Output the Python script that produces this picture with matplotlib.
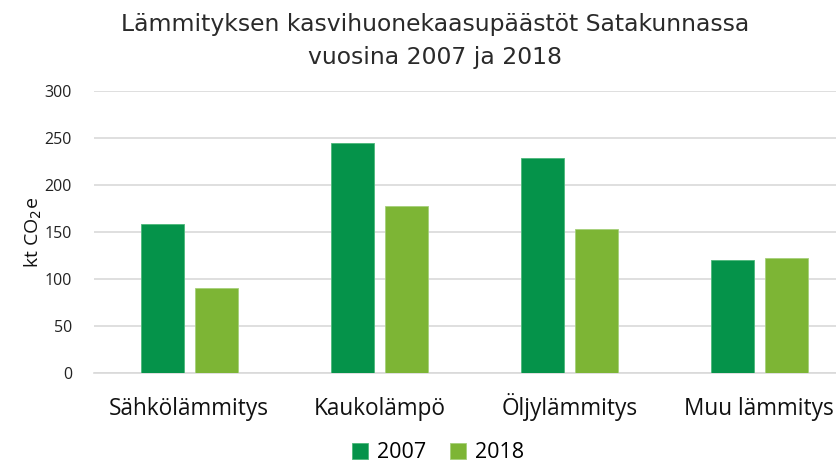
import matplotlib
matplotlib.use("Agg")
import matplotlib.pyplot as plt
import numpy as np

categories = ["Sähkölämmitys", "Kaukolämpö", "Öljylämmitys", "Muu lämmitys"]
series_names = ["2007", "2018"]
values_2007 = [158, 245, 229, 120]
values_2018 = [90, 178, 153, 122]
yticks = [0, 50, 100, 150, 200, 250, 300]

c2007 = "#05934A"
c2018 = "#7DB535"

plt.rcParams['font.family'] = ['Open Sans', 'DejaVu Sans']

W, H = 836, 463
fig = plt.figure(figsize=(W/100, H/100), dpi=100)
left = 94.3 / W
right = 854.3 / W
bottom = 1 - 373 / H
top = 1 - 91 / H
ax = fig.add_axes([left, bottom, right - left, top - bottom])

x = np.arange(len(categories))
bw = 0.224
off = 0.142
ax.bar(x - off, values_2007, bw, color=c2007, label=series_names[0], zorder=3,
       edgecolor="#4CB87A", linewidth=0.6)
ax.bar(x + off, values_2018, bw, color=c2018, label=series_names[1], zorder=3,
       edgecolor="#A6D07A", linewidth=0.6)

ax.set_xlim(-0.5, len(categories) - 0.5)
ax.set_ylim(0, 300)
ax.set_yticks(yticks)
ax.yaxis.grid(True, color="#D9D9D9", linewidth=1.2, zorder=0)
ax.set_axisbelow(True)
for s in ["top", "right", "left"]:
    ax.spines[s].set_visible(False)
ax.spines["bottom"].set_color("#D9D9D9")
ax.spines["bottom"].set_linewidth(1.2)
ax.tick_params(axis="both", length=0)
ax.tick_params(axis="y", labelsize=11.5, pad=16, labelcolor="#222222")
ax.set_xticks(x)
ax.set_xticklabels(categories, fontsize=16.3, color="#111111")
for lab in ax.get_xticklabels():
    lab.set_va("baseline")
ax.tick_params(axis="x", pad=30)

fig.text(33 / W, 1 - 232 / H, "kt CO$_2$e", rotation=90, ha="center", va="center",
         fontsize=14, color="#111111")

fig.text(435 / W, 1 - 41 / H, "Lämmityksen kasvihuonekaasupäästöt Satakunnassa\nvuosina 2007 ja 2018",
         ha="center", va="center", fontsize=16.9, color="#2a2a2a", linespacing=1.6,
         family=["DejaVu Sans"])

leg = fig.legend(loc="center", bbox_to_anchor=(438 / W, 1 - 453 / H), ncol=2, frameon=False,
                 fontsize=15.5, handlelength=0.75, handleheight=0.75, columnspacing=1.1,
                 handletextpad=0.4)

fig.savefig("out.png", dpi=100)
